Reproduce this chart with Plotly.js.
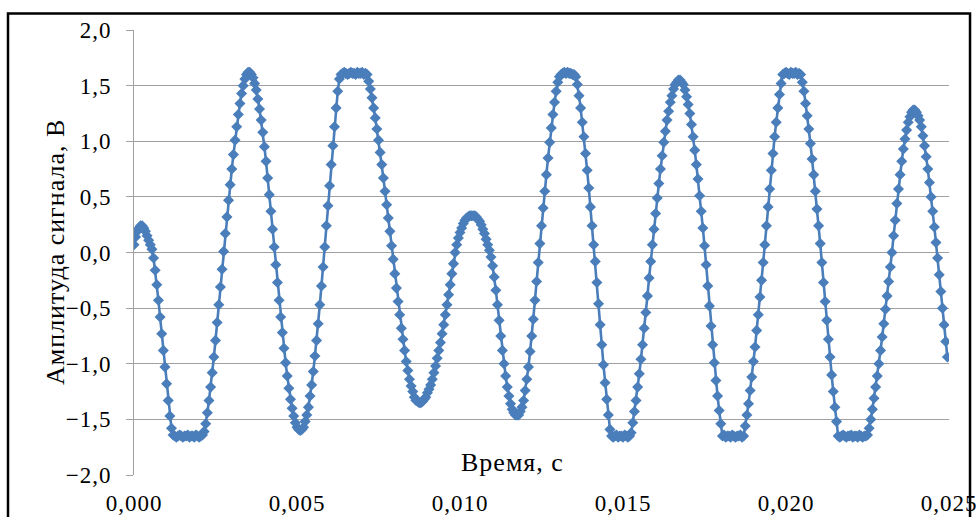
<!DOCTYPE html>
<html><head><meta charset="utf-8">
<script src="https://cdn.plot.ly/plotly-3.0.1.min.js"></script>
<style>
html,body{margin:0;padding:0;background:#fff;overflow:hidden}
#chart{width:976px;height:517px}
#chart text{letter-spacing:1px}
</style>
</head><body><div id="chart"></div>
<script>
const TIME_START = 0;      // s
const TIME_STEP = 0.00005; // s, sampling interval
const AMPLITUDE = [
0.07,0.14,0.19,0.22,0.24,0.24,0.22,0.19,0.15,0.11,
0.07,0.03,-0.05,-0.16,-0.29,-0.43,-0.58,-0.73,-0.88,-1.03,
-1.18,-1.33,-1.47,-1.58,-1.64,-1.65,-1.66,-1.65,-1.64,-1.65,
-1.66,-1.65,-1.65,-1.64,-1.66,-1.65,-1.65,-1.66,-1.64,-1.65,
-1.66,-1.65,-1.64,-1.61,-1.54,-1.44,-1.33,-1.21,-1.08,-0.94,
-0.79,-0.63,-0.47,-0.31,-0.15,0.01,0.17,0.32,0.47,0.61,
0.75,0.88,1.01,1.13,1.24,1.34,1.43,1.50,1.56,1.60,
1.62,1.62,1.60,1.57,1.52,1.46,1.38,1.29,1.19,1.08,
0.95,0.82,0.67,0.52,0.37,0.21,0.05,-0.11,-0.27,-0.43,
-0.58,-0.72,-0.86,-0.99,-1.11,-1.22,-1.32,-1.40,-1.47,-1.53,
-1.57,-1.59,-1.60,-1.59,-1.57,-1.52,-1.46,-1.39,-1.29,-1.19,
-1.07,-0.93,-0.79,-0.64,-0.47,-0.30,-0.13,0.05,0.24,0.42,
0.60,0.79,0.96,1.13,1.30,1.45,1.56,1.60,1.61,1.62,
1.61,1.60,1.61,1.62,1.61,1.61,1.60,1.62,1.61,1.61,
1.62,1.60,1.61,1.60,1.54,1.47,1.39,1.30,1.21,1.11,
1.01,0.90,0.79,0.67,0.55,0.43,0.31,0.19,0.06,-0.06,
-0.19,-0.32,-0.44,-0.56,-0.68,-0.78,-0.88,-0.98,-1.06,-1.14,
-1.20,-1.25,-1.30,-1.33,-1.34,-1.35,-1.35,-1.34,-1.32,-1.30,
-1.26,-1.23,-1.19,-1.14,-1.08,-1.02,-0.95,-0.88,-0.81,-0.73,
-0.65,-0.56,-0.47,-0.38,-0.29,-0.19,-0.10,0.00,0.07,0.13,
0.18,0.22,0.26,0.29,0.31,0.32,0.33,0.33,0.33,0.33,
0.32,0.30,0.28,0.25,0.21,0.17,0.12,0.07,0.02,-0.04,
-0.12,-0.22,-0.34,-0.47,-0.61,-0.75,-0.88,-1.00,-1.11,-1.21,
-1.29,-1.36,-1.41,-1.44,-1.46,-1.46,-1.46,-1.43,-1.39,-1.33,
-1.24,-1.14,-1.03,-0.89,-0.75,-0.60,-0.43,-0.26,-0.09,0.08,
0.24,0.40,0.55,0.70,0.85,0.99,1.12,1.24,1.35,1.45,
1.53,1.58,1.60,1.61,1.62,1.61,1.62,1.61,1.61,1.60,
1.60,1.58,1.51,1.41,1.30,1.17,1.04,0.89,0.74,0.58,
0.41,0.24,0.07,-0.08,-0.27,-0.46,-0.65,-0.83,-1.01,-1.17,
-1.32,-1.46,-1.59,-1.65,-1.66,-1.65,-1.64,-1.66,-1.65,-1.65,
-1.66,-1.64,-1.65,-1.66,-1.65,-1.62,-1.53,-1.43,-1.33,-1.21,
-1.09,-0.96,-0.83,-0.68,-0.54,-0.39,-0.23,-0.08,0.07,0.21,
0.35,0.49,0.62,0.75,0.87,0.99,1.09,1.19,1.27,1.35,
1.41,1.47,1.51,1.53,1.55,1.55,1.53,1.51,1.46,1.40,
1.33,1.25,1.15,1.04,0.92,0.79,0.66,0.51,0.37,0.22,
0.06,-0.11,-0.30,-0.48,-0.66,-0.83,-0.99,-1.15,-1.29,-1.42,
-1.54,-1.65,-1.64,-1.66,-1.65,-1.65,-1.66,-1.64,-1.65,-1.66,
-1.65,-1.65,-1.64,-1.66,-1.65,-1.56,-1.46,-1.36,-1.24,-1.12,
-0.98,-0.85,-0.70,-0.56,-0.40,-0.25,-0.09,0.07,0.24,0.41,
0.57,0.74,0.89,1.04,1.17,1.30,1.42,1.52,1.60,1.61,
1.62,1.61,1.60,1.62,1.61,1.61,1.62,1.60,1.61,1.60,
1.53,1.45,1.34,1.23,1.11,0.98,0.84,0.70,0.55,0.39,
0.24,0.08,-0.09,-0.27,-0.44,-0.61,-0.78,-0.94,-1.10,-1.25,
-1.39,-1.52,-1.65,-1.66,-1.65,-1.64,-1.65,-1.66,-1.65,-1.65,
-1.64,-1.66,-1.65,-1.65,-1.66,-1.64,-1.65,-1.66,-1.65,-1.65,
-1.64,-1.58,-1.50,-1.41,-1.31,-1.21,-1.11,-1.00,-0.88,-0.76,
-0.64,-0.51,-0.39,-0.26,-0.13,0.00,0.15,0.29,0.44,0.57,
0.70,0.82,0.93,1.02,1.10,1.17,1.22,1.26,1.28,1.28,
1.26,1.23,1.19,1.13,1.05,0.96,0.86,0.75,0.63,0.50,
0.37,0.23,0.09,-0.05,-0.20,-0.35,-0.50,-0.65,-0.80,-0.94
];
const X_TICKS = [0, 0.005, 0.010, 0.015, 0.020, 0.025];
const Y_TICKS = [-2, -1.5, -1, -0.5, 0, 0.5, 1, 1.5, 2];
const X_RANGE = [0, 0.025];
const Y_RANGE = [-2, 2];
const X_TITLE = 'Время, с';
const Y_TITLE = 'Амплитуда сигнала, В';

const SERIF = '"Liberation Serif", "Times New Roman", serif';
const BLUE = '#4a7ebb';
const GRID = '#a0a0a0';

const trace = {
  type: 'scatter', mode: 'lines+markers',
  x0: TIME_START, dx: TIME_STEP, y: AMPLITUDE,
  line: {color: BLUE, width: 2.6},
  marker: {symbol: 'diamond', size: 8.5, color: BLUE},
  hoverinfo: 'skip', showlegend: false
};

const layout = {
  width: 976, height: 517,
  margin: {l: 134, r: 27, t: 30, b: 42, pad: 0},
  paper_bgcolor: '#fff', plot_bgcolor: '#fff',
  separators: ', ',
  showlegend: false, hovermode: false,
  font: {family: SERIF, color: '#000', size: 23},
  xaxis: {
    range: X_RANGE, tickvals: X_TICKS, tickformat: '.3f',
    showgrid: false, zeroline: false, showline: false, ticks: '',
    ticklabelstandoff: 12,
    tickfont: {family: SERIF, size: 23, color: '#000'}
  },
  xaxis2: {
    overlaying: 'x', anchor: 'free', position: 0.5,
    range: X_RANGE, tickvals: X_TICKS,
    showticklabels: false, showgrid: false, zeroline: false,
    showline: true, linecolor: GRID, linewidth: 1,
    ticks: 'outside', ticklen: 8, tickcolor: GRID, tickwidth: 1
  },
  yaxis: {
    range: Y_RANGE, tickvals: Y_TICKS, tickformat: '.1f',
    showgrid: true, gridcolor: GRID, gridwidth: 1,
    zeroline: false, showline: true, linecolor: GRID, linewidth: 1,
    ticks: 'outside', ticklen: 7, tickcolor: GRID, tickwidth: 1,
    ticklabelstandoff: 10,
    tickfont: {family: SERIF, size: 23, color: '#000'}
  },
  annotations: [
    {text: X_TITLE, xref: 'paper', yref: 'paper', x: 0.465, y: 0.027,
     xanchor: 'center', yanchor: 'middle', showarrow: false,
     font: {family: SERIF, size: 26, color: '#000'}},
    {text: Y_TITLE, xref: 'paper', yref: 'paper', x: -0.0963, y: 0.5,
     xanchor: 'center', yanchor: 'middle', showarrow: false, textangle: -90,
     font: {family: SERIF, size: 26, color: '#000'}}
  ],
  shapes: [
    {type: 'rect', xref: 'paper', yref: 'paper',
     x0: -0.1546, x1: 1.0258, y0: -0.14, y1: 1.0371,
     line: {color: '#000', width: 2.5}, fillcolor: 'rgba(0,0,0,0)', layer: 'above'}
  ]
};

Plotly.newPlot('chart', [trace], layout, {staticPlot: true, displayModeBar: false});
</script></body></html>
